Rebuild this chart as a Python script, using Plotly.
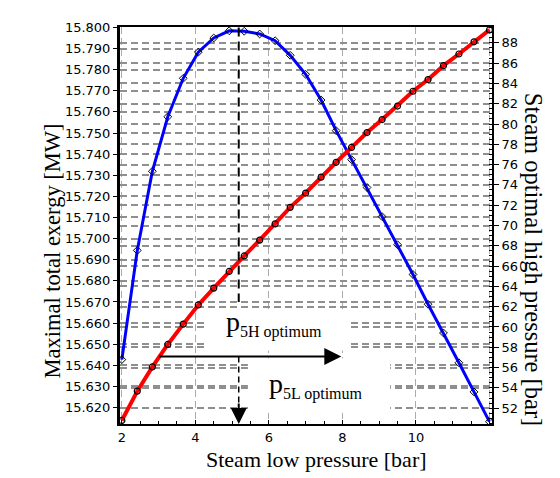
import plotly.graph_objects as go

# Steam low pressure [bar] (x axis)
p_low = [2.0, 2.42, 2.83, 3.25, 3.67, 4.08, 4.5, 4.92, 5.33, 5.75, 6.17, 6.58, 7.0,
         7.42, 7.83, 8.25, 8.67, 9.08, 9.5, 9.92, 10.33, 10.75, 11.17, 11.58, 12.0]

# Maximal total exergy [MW] (left axis, blue)
exergy = [15.6427, 15.6944, 15.7319, 15.7577, 15.7759, 15.7883, 15.7950, 15.7984,
          15.7982, 15.7969, 15.7937, 15.7868, 15.7778, 15.7656, 15.7511, 15.7374,
          15.7242, 15.7104, 15.6971, 15.6830, 15.6689, 15.6553, 15.6412, 15.6274, 15.6133]

# Steam optimal high pressure [bar] (right axis, red)
p_high = [50.79, 53.68, 56.07, 58.28, 60.28, 62.17, 63.83, 65.47, 67.00, 68.56,
          70.16, 71.79, 73.20, 74.76, 76.23, 77.70, 79.16, 80.44, 81.77, 83.23,
          84.38, 85.75, 86.90, 88.10, 89.27]

x_ticks = [2, 4, 6, 8, 10, 12]
x_tick_text = ['2', '4', '6', '8', '10', '']

# optimum markers
p_low_opt = 5.18
arrow_level = 15.6442
arrow_from, arrow_to = 2.98, 7.97

SERIF = 'Liberation Serif, Times New Roman, serif'
TICKS = dict(family='DejaVu Sans', size=13, color='black')
GRID = '#8f8f8f'

fig = go.Figure()

fig.add_trace(go.Scatter(
    x=p_low, y=exergy, mode='lines+markers',
    line=dict(color='#0000ff', width=3),
    marker=dict(symbol='diamond', size=6, color='rgba(0,0,0,0)',
                line=dict(color='black', width=1)),
))
fig.add_trace(go.Scatter(
    x=p_low, y=p_high, yaxis='y2', mode='lines+markers',
    line=dict(color='#ff0000', width=4),
    marker=dict(symbol='circle', size=6, color='rgba(0,0,0,0)',
                line=dict(color='black', width=1.2)),
))

# white boxes behind the labels hide the grid
for x0, x1, y0, y1 in [(4.29, 8.23, 15.647, 15.6667), (5.43, 9.30, 15.6175, 15.6433)]:
    fig.add_shape(type='rect', xref='x', yref='y', x0=x0, x1=x1, y0=y0, y1=y1,
                  fillcolor='white', line=dict(width=0), layer='between')

# dashed line from the exergy maximum down to the x axis
fig.add_shape(type='line', xref='x', yref='y', x0=p_low_opt, x1=p_low_opt,
              y0=15.8, y1=15.670, line=dict(color='black', width=2, dash='9px,5px'))
fig.add_shape(type='line', xref='x', yref='y', x0=p_low_opt, x1=p_low_opt,
              y0=arrow_level, y1=15.621, line=dict(color='black', width=1.5, dash='6px,4px'))
fig.add_annotation(x=p_low_opt, y=15.6122, ax=0, ay=-22, text='', showarrow=True,
                   arrowhead=2, arrowsize=1.6, arrowwidth=2, arrowcolor='black')

fig.add_annotation(x=arrow_to, y=arrow_level, ax=arrow_from, ay=arrow_level,
                   axref='x', ayref='y', text='', showarrow=True,
                   arrowhead=2, arrowsize=1.7, arrowwidth=2, arrowcolor='black')

fig.add_annotation(x=6.15, y=15.6598, showarrow=False,
                   text="p<sub><span style='font-size:16px'>5H optimum</span></sub>",
                   font=dict(family=SERIF, size=28, color='black'))
fig.add_annotation(x=7.28, y=15.6305, showarrow=False,
                   text="p<sub><span style='font-size:16px'>5L optimum</span></sub>",
                   font=dict(family=SERIF, size=28, color='black'))

# axis titles
fig.add_annotation(xref='paper', yref='paper', x=-0.221, y=0.435, textangle=-90,
                   text='Maximal total exergy [MW]', showarrow=False,
                   font=dict(family=SERIF, size=22.5, color='black'))
fig.add_annotation(xref='paper', yref='paper', x=1.153, y=0.415, textangle=90,
                   text='Steam optimal high pressure [bar]', showarrow=False,
                   font=dict(family=SERIF, size=24.5, color='black'))
fig.add_annotation(xref='paper', yref='paper', x=0.527, y=-0.125,
                   text='Steam low pressure [bar]', showarrow=False,
                   font=dict(family=SERIF, size=22, color='black'))

fig.update_layout(
    width=560, height=478,
    margin=dict(l=112, r=76, t=16, b=62),
    showlegend=False,
    plot_bgcolor='white', paper_bgcolor='white',
    xaxis=dict(
        range=[1.95, 12.07], tickvals=x_ticks, ticktext=x_tick_text,
        ticks='inside', ticklen=4, tickcolor='black', tickfont=TICKS,
        minor=dict(dtick=0.5, tick0=2, ticks='inside', ticklen=3, tickcolor='black', showgrid=False),
        showgrid=True, gridcolor='#ababab', gridwidth=1, griddash='7px,4px',
        showline=True, linecolor='black', linewidth=2, mirror=True, zeroline=False,
    ),
    yaxis=dict(
        range=[15.6122, 15.8002], tick0=15.61, dtick=0.01, tickformat='.3f',
        ticks='outside', ticklen=4, tickcolor='black', tickfont=TICKS,
        showgrid=True, gridcolor=GRID, gridwidth=1.5, griddash='7px,4px',
        showline=True, linecolor='black', linewidth=3, zeroline=False,
    ),
    yaxis2=dict(
        overlaying='y', side='right',
        range=[50.44, 89.56], tick0=50, dtick=2,
        ticks='outside', ticklen=5, tickcolor='black', tickfont=TICKS,
        minor=dict(dtick=0.5, ticks='inside', ticklen=3, tickcolor='black', showgrid=False),
        showgrid=True, gridcolor=GRID, gridwidth=1.5, griddash='7px,4px',
        showline=True, linecolor='black', linewidth=2, zeroline=False,
    ),
)

fig.write_html('out.html')
